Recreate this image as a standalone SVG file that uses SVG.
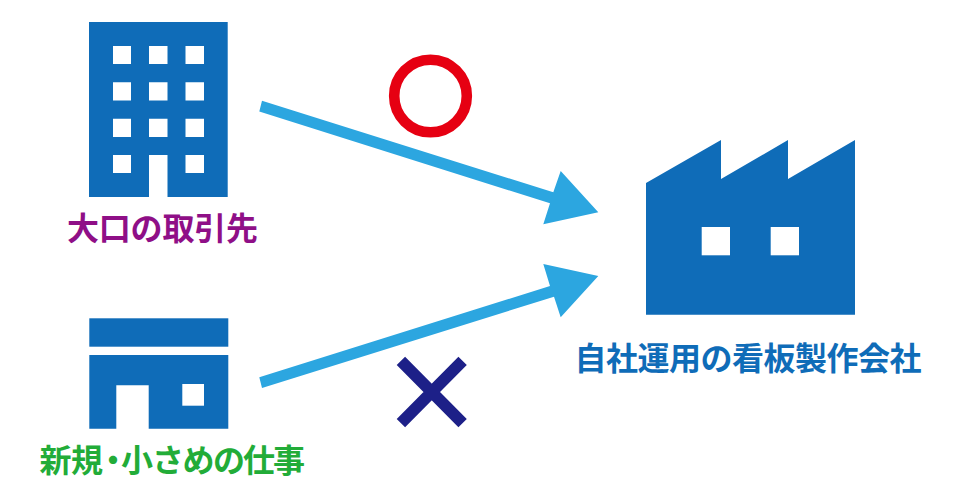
<svg xmlns="http://www.w3.org/2000/svg" width="960" height="503" viewBox="0 0 960 503">
<style>
.icon{fill:#0f6cb8}
.hole{fill:#fff}
.arrow{fill:#2ca6e0}
text{font-family:"Noto Sans CJK JP","Noto Sans",sans-serif;font-weight:700;font-size:32px}
</style>
<rect width="960" height="503" fill="#fff"/>
<g id="connectors">
<polygon class="arrow" points="262,100.7 553.3,192.3 560.7,171 598.3,212.3 543.3,224.3 550,203.3 259.3,111.5"/>
<polygon class="arrow" points="259.3,377.3 550,286 543.3,264 598.3,276 560.7,317.3 554,296.7 262,388"/>
</g>
<g id="node-large">
<path class="icon" d="M89 22H227.700V197H167.500V155H149V197H89Z"/>
<path class="hole" d="M113 46h18v18h-18zM149 46h18.500v18h-18.500zM185.500 46h18.500v18h-18.500zM113 82.300h18v18.300h-18zM149 82.300h18.500v18.300h-18.500zM185.500 82.300h18.500v18.300h-18.500zM113 118.700h18v18.300h-18zM149 118.700h18.500v18.300h-18.500zM185.500 118.700h18.500v18.300h-18.500zM113 155h18v18h-18zM185.500 155h18.500v18h-18.500z"/>
<text x="67 98.800 130.600 162.400 194.200 226" y="240" fill="#8f0f87">大口の取引先</text>
</g>
<g id="node-small">
<rect class="icon" x="89.300" y="318.300" width="139" height="28.400"/>
<path class="icon" d="M89.300 355H228.300V428.700H148.700V385.300H116.300V428.700H89.300Z"/>
<rect class="hole" x="182.300" y="384" width="21.700" height="21.700"/>
<text x="39.500 71 97 121 152 182.500 213 243 273" y="472" fill="#22ac38">新規・小さめの仕事</text>
</g>
<g id="node-factory">
<path class="icon" d="M646 183L721 140V179L788 140V179L855 140V314.700H646Z"/>
<rect class="hole" x="701.700" y="227" width="28.300" height="28.300"/>
<rect class="hole" x="770.700" y="227" width="28.300" height="28.300"/>
<text x="574.500 606 637.500 669 700.500 732 763.500 795 826.500 858 889.500" y="370" fill="#0f6cb8">自社運用の看板製作会社</text>
</g>
<g id="mark-ok">
<circle cx="430.500" cy="96" r="36.300" fill="none" stroke="#e60012" stroke-width="10.600"/>
</g>
<g id="mark-ng" stroke="#1d2088" stroke-width="11.800" fill="none">
<path d="M400.900 360.900L462.600 423.100M462.600 360.900L400.900 423.100"/>
</g>
</svg>
